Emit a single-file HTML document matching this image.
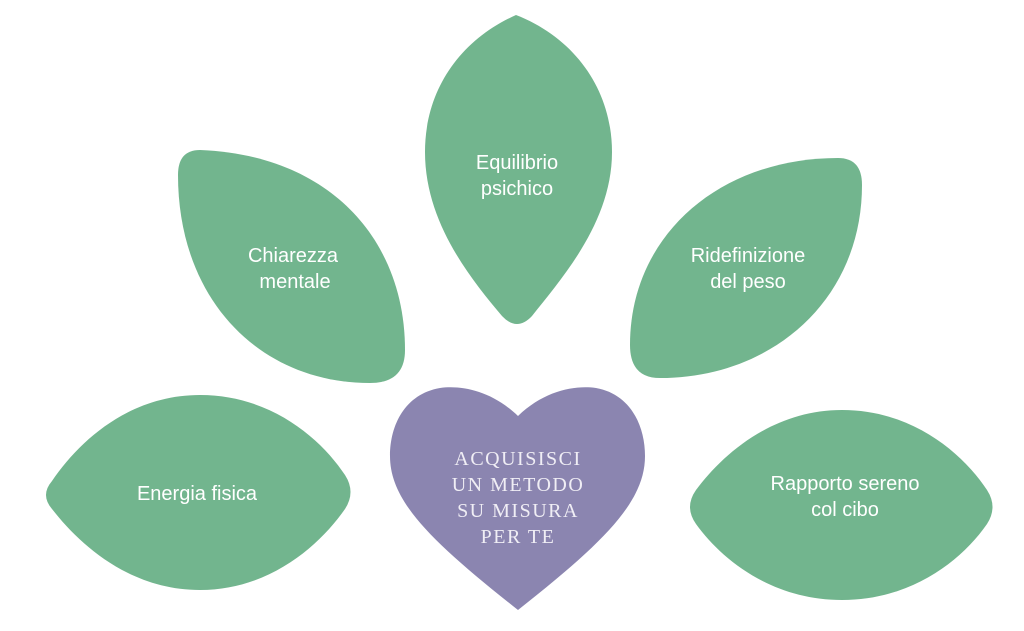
<!DOCTYPE html>
<html><head><style>
html,body{margin:0;padding:0;background:#fff;}
svg{display:block}
.g{fill:#72b58e}
.t{font-family:"Liberation Sans",sans-serif;font-size:20px;fill:#fff;text-anchor:middle}
.h{font-family:"Liberation Serif",serif;font-size:20px;fill:#f0eef5;text-anchor:middle;letter-spacing:1.5px}
</style></head><body>
<svg width="1024" height="631" viewBox="0 0 1024 631" xmlns="http://www.w3.org/2000/svg">
<path class="g" d="M516,15 C575,38 612,90 612,152 C612,222 562,278 532,316 Q517,332 502,316 C470,278 425,222 425,152 C425,90 460,40 516,15 Z"/>
<path class="g" d="M200,150 C330,155 405,240 405,350 Q405,383 370,383 C260,383 178,300 178,175 Q178,150 200,150 Z"/>
<path class="g" d="M838,158 Q862,158 862,185 C862,300 772,378 660,378 Q630,378 630,345 C630,235 720,158 838,158 Z"/>
<path class="g" d="M200,395 C272,395 322,440 345,475 Q356,492 345,509 C320,545 270,590 200,590 C130,590 80,545 52,509 Q40,495 52,481 C80,440 130,395 200,395 Z"/>
<path class="g" d="M842,410 C914,410 964,455 987,490 Q998,507 987,524 C962,560 912,600 842,600 C772,600 722,560 696,524 Q684,507 696,490 C722,455 772,410 842,410 Z"/>
<path fill="#8b85b0" d="M518,416 C492,391 462,385 440,388 C405,394 390,425 390,456 C390,502 432,542 518,610 C604,542 645,502 645,456 C645,425 630,394 596,388 C574,385 544,391 518,416 Z"/>
<text class="t" x="517" y="169">Equilibrio</text>
<text class="t" x="517" y="195">psichico</text>
<text class="t" x="293" y="262">Chiarezza</text>
<text class="t" x="295" y="288">mentale</text>
<text class="t" x="748" y="262">Ridefinizione</text>
<text class="t" x="748" y="288">del peso</text>
<text class="t" x="197" y="500">Energia fisica</text>
<text class="t" x="845" y="490">Rapporto sereno</text>
<text class="t" x="845" y="516">col cibo</text>
<text class="h" x="518" y="465">ACQUISISCI</text>
<text class="h" x="518" y="491">UN METODO</text>
<text class="h" x="518" y="517">SU MISURA</text>
<text class="h" x="518" y="543">PER TE</text>
</svg>
</body></html>
